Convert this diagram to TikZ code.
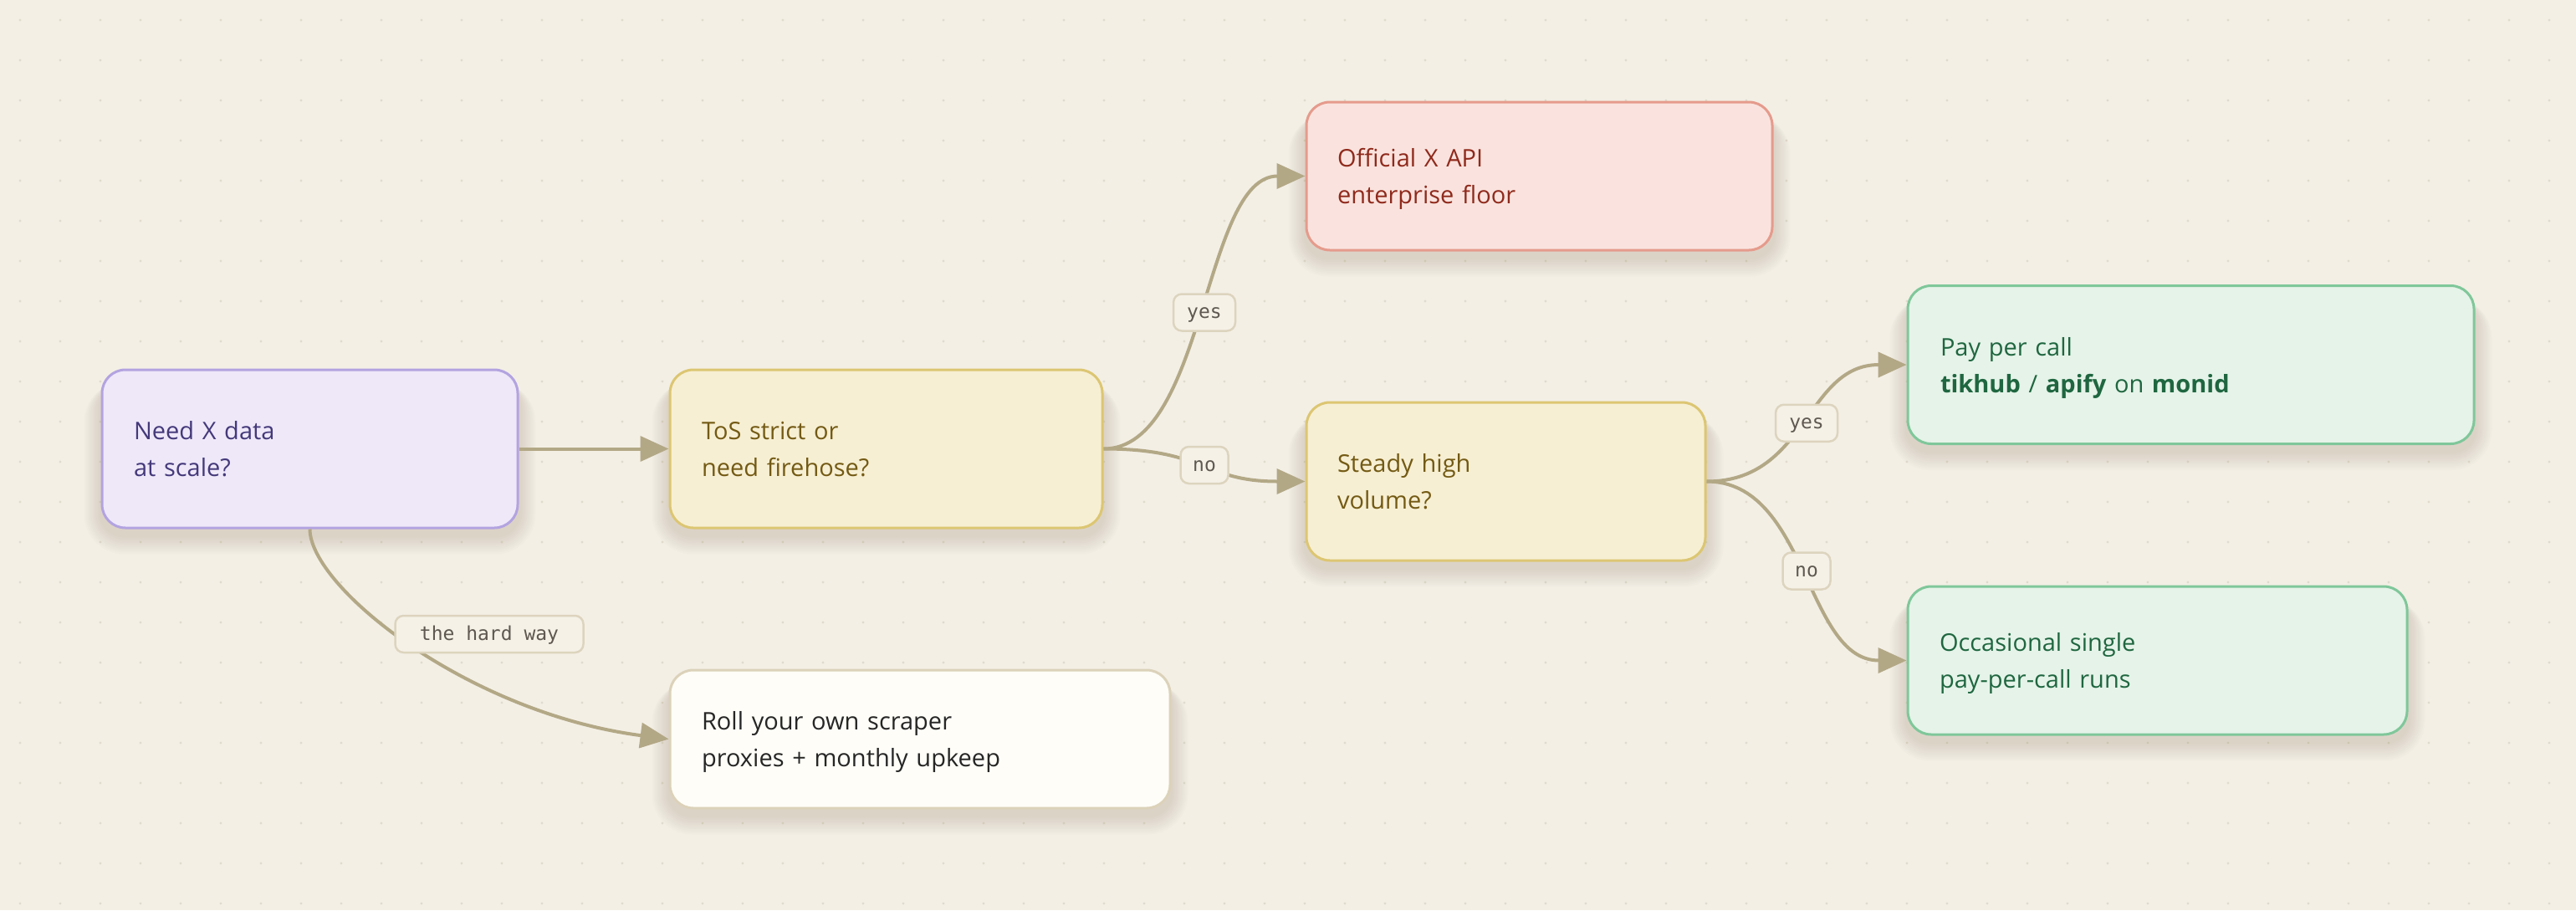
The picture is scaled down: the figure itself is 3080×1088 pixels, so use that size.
\documentclass[tikz,border=0pt]{standalone}
\usepackage{fontspec}
\setmainfont{Open Sans}
\newfontfamily\labelfont{DejaVu Sans Mono}
\usetikzlibrary{arrows.meta,calc}
\definecolor{bgc}{HTML}{F3EFE5}
\definecolor{dotc}{HTML}{E0DBCD}
\definecolor{edgec}{HTML}{B3A886}
\definecolor{shadowc}{HTML}{6B5A30}
\definecolor{needfill}{HTML}{EEE8F9}
\definecolor{needdraw}{HTML}{B3A3E0}
\definecolor{needtext}{HTML}{45397A}
\definecolor{tosfill}{HTML}{F7EFD3}
\definecolor{tosdraw}{HTML}{DCC672}
\definecolor{tostext}{HTML}{735A14}
\definecolor{offfill}{HTML}{FAE3DE}
\definecolor{offdraw}{HTML}{E59B8C}
\definecolor{offtext}{HTML}{8F2A1C}
\definecolor{payfill}{HTML}{E5F3E8}
\definecolor{paydraw}{HTML}{7FC79A}
\definecolor{paytext}{HTML}{1F6640}
\definecolor{rollfill}{HTML}{FEFDF7}
\definecolor{rolldraw}{HTML}{DCD2BA}
\definecolor{rolltext}{HTML}{262626}
\definecolor{labfill}{HTML}{F5F1E7}
\definecolor{labdraw}{HTML}{DDD4BE}
\definecolor{labtext}{HTML}{5E5850}
\pgfdeclarelayer{back}
\pgfdeclarelayer{shadow}
\pgfsetlayers{back,shadow,main}
\newcommand\boxshadow[1]{%
  \begin{pgfonlayer}{shadow}
    \foreach \k in {1,...,10}{%
      \pgfmathsetmacro\rr{28+\k*2}%
      \fill[shadowc, opacity=0.014, rounded corners=\rr pt]
        ($(#1.north west)+(-\k*2, 16)$) rectangle ($(#1.south east)+(\k*2, 8+\k*2.2)$);
    }
  \end{pgfonlayer}}
\tikzset{
  box/.style={draw, line width=3pt, rounded corners=28pt, align=left,
    inner xsep=38pt, inner ysep=0pt, text height=22pt, text depth=44pt,
    font=\fontsize{29}{44}\selectfont},
  need/.style={box, fill=needfill, draw=needdraw, text=needtext},
  tosq/.style={box, fill=tosfill, draw=tosdraw, text=tostext},
  offi/.style={box, fill=offfill, draw=offdraw, text=offtext},
  payb/.style={box, fill=payfill, draw=paydraw, text=paytext},
  rollb/.style={box, fill=rollfill, draw=rolldraw, text=rolltext},
  conn/.style={draw=edgec, line width=4pt, -{Triangle[length=34pt,width=30pt]}},
  lab/.style={draw=labdraw, fill=labfill, line width=2.5pt, rounded corners=10pt,
    text=labtext, font=\labelfont\fontsize{23}{28}\selectfont,
    inner xsep=0pt, inner ysep=0pt, minimum height=44pt, text height=16pt, text depth=2pt},
}
\begin{document}
\begin{tikzpicture}[x=1pt, y=-1pt]
\useasboundingbox (0,0) rectangle (3080,1088);
\begin{pgfonlayer}{back}
  \fill[bgc] (0,0) rectangle (3080,1088);
  \foreach \i in {0,...,63}{
    \foreach \j in {0,...,22}{
      \fill[dotc] (24+48*\i, 24+48*\j) circle (1.6pt);
    }
  }
\end{pgfonlayer}

\node[need, text width=421pt, minimum height=189pt] (need) at (370.5,536.5) {Need X data\\at scale?};
\node[tosq, text width=441pt, minimum height=189pt] (tos) at (1059.5,536.5) {ToS strict or\\need firehose?};
\node[offi, inner xsep=37pt, text width=483pt, minimum height=177pt] (official) at (1840.5,210.5) {Official X API\\enterprise floor};
\node[tosq, inner xsep=37pt, text width=403pt, minimum height=189pt] (steady) at (1800.5,575.5) {Steady high\\volume?};
\node[payb, inner xsep=39pt, text width=599pt, minimum height=189pt] (pay) at (2619.5,436) {Pay per call\\\textbf{tikhub} / \textbf{apify} on \textbf{monid}};
\node[payb, inner xsep=38pt, text width=521pt, minimum height=177pt] (occ) at (2579.5,789.5) {Occasional single\\pay-per-call runs};
\node[rollb, inner xsep=38pt, text width=522pt, minimum height=165pt] (roll) at (1100,883.5) {Roll your own scraper\\proxies + monthly upkeep};

\boxshadow{need}
\boxshadow{tos}
\boxshadow{official}
\boxshadow{steady}
\boxshadow{pay}
\boxshadow{occ}
\boxshadow{roll}

\draw[conn] (need.east) -- (tos.west);
\draw[conn] (need.south) .. controls +(0,69) and +(-241,-31.5) .. (roll.west);
\draw[conn] (tos.east) .. controls +(122,0) and +(-122,0) .. (official.west);
\draw[conn] (tos.east) .. controls +(122,0) and +(-122,0) .. (steady.west);
\draw[conn] (steady.east) .. controls +(121,0) and +(-121,0) .. (pay.west);
\draw[conn] (steady.east) .. controls +(121,0) and +(-121,0) .. (occ.west);

\node[lab, minimum width=74pt] (l1) at ($(tos.east)!0.5!(official.west)$) {yes};
\node[lab, minimum width=57pt] (l2) at ($(tos.east)!0.5!(steady.west)$) {no};
\node[lab, minimum width=74pt] (l3) at ($(steady.east)!0.5!(pay.west)$) {yes};
\node[lab, minimum width=57pt] (l4) at ($(steady.east)!0.5!(occ.west)$) {no};
\node[lab, minimum width=225pt] (l5) at ($(need.south)!0.5!(roll.west)$) {the hard way};
\end{tikzpicture}
\end{document}
